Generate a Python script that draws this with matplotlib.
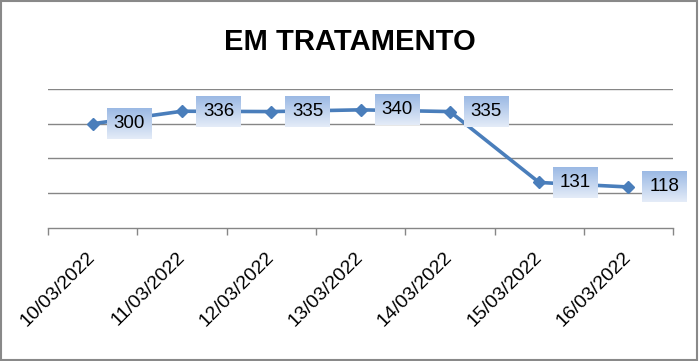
import numpy as np
import matplotlib.pyplot as plt
from matplotlib.patches import Rectangle
from matplotlib.transforms import IdentityTransform

# data
dates = ['10/03/2022', '11/03/2022', '12/03/2022', '13/03/2022',
         '14/03/2022', '15/03/2022', '16/03/2022']
em_tratamento = [300, 336, 335, 340, 335, 131, 118]

title = 'EM TRATAMENTO'
line_color = '#4A7EBB'
grid_color = '#868686'

plt.rcParams['font.family'] = ['Liberation Sans', 'DejaVu Sans']

fig = plt.figure(figsize=(6.99, 3.61), dpi=100)
ax = fig.add_axes([0.0687, 0.3684, 0.8943, 0.3851])

x = np.arange(len(dates))
ax.plot(x, em_tratamento, color=line_color, lw=2.6, marker='D', ms=6.5,
        mfc=line_color, mec=line_color, zorder=4, clip_on=False)

ax.set_xlim(-0.5, len(dates) - 0.5)
ax.set_ylim(0, 400)
ax.set_yticks([100, 200, 300, 400])
ax.yaxis.grid(True, color=grid_color, lw=1)
ax.tick_params(axis='y', left=False, labelleft=False)
ax.set_axisbelow(True)

for side in ['left', 'right', 'top']:
    ax.spines[side].set_visible(False)
ax.spines['bottom'].set_color(grid_color)
ax.spines['bottom'].set_linewidth(1)

# category boundaries get ticks, centres get labels
ax.set_xticks(np.arange(len(dates) + 1) - 0.5)
ax.set_xticklabels([])
ax.tick_params(axis='x', which='major', direction='out', length=5,
               color=grid_color, width=1)
ax.set_xticks(x, minor=True)
ax.set_xticklabels(dates, minor=True, rotation=45, ha='right', va='center',
                   rotation_mode='anchor', fontsize=14)
ax.tick_params(axis='x', which='minor', length=0, pad=19)

# data labels with a gradient box to the right of each point
box_w, box_h, gap = 45, 31, 14
top_rgb = np.array([155, 185, 228]) / 255
bot_rgb = np.array([228, 236, 248]) / 255
t = np.linspace(0, 1, 64)[:, None]
grad = (top_rgb * (1 - t) + bot_rgb * t)[:, None, :]
for xi, v in zip(x, em_tratamento):
    px, py = ax.transData.transform((xi, v))
    left = px + gap
    ax.imshow(grad, extent=(left, left + box_w, py - box_h / 2, py + box_h / 2),
              transform=IdentityTransform(), aspect='auto', zorder=5,
              clip_on=False, interpolation='bilinear')
    ax.annotate(str(v), (xi, v), xytext=(gap + box_w / 2, 0),
                textcoords='offset pixels', ha='center', va='center',
                fontsize=13.5, color='black', zorder=6, annotation_clip=False)

ax.set_xlim(-0.5, len(dates) - 0.5)
ax.set_ylim(0, 400)

fig.text(0.5, 1 - 50 / 361, title, ha='center', va='baseline',
         fontsize=21, fontweight='bold')

fig.patches.append(Rectangle((0.002, 0.003), 0.995, 0.993, transform=fig.transFigure,
                             fill=False, ec='#898989', lw=1.5))

fig.savefig('out.png', dpi=100)
